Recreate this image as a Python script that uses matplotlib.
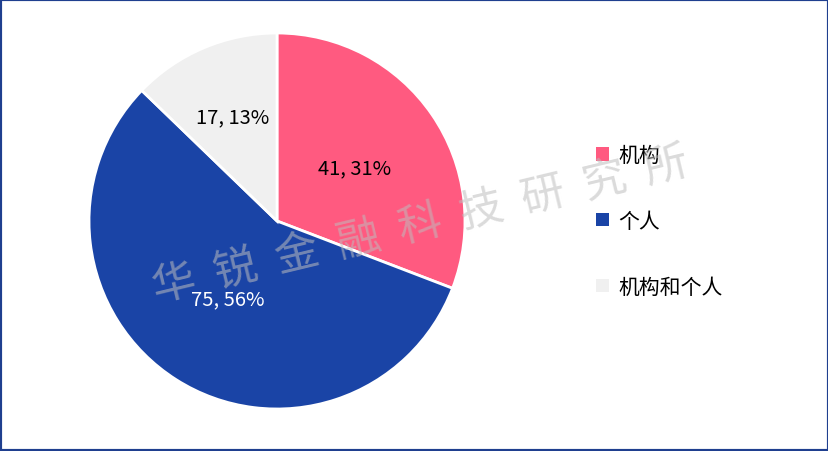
import matplotlib
matplotlib.use("Agg")
import matplotlib.pyplot as plt
from matplotlib.patches import Rectangle
import numpy as np

plt.rcParams['font.family'] = ['Noto Sans CJK SC', 'DejaVu Sans']

categories = ["机构", "个人", "机构和个人"]
counts = [41, 75, 17]
colors = ["#FF5A80", "#1A44A6", "#F0F0F0"]
label_colors = ["black", "white", "black"]
label_dist = [0.50, 0.49, 0.60]

total = sum(counts)
labels = ["%d, %d%%" % (c, round(c * 100 / total)) for c in counts]

W, H = 829, 452
fig = plt.figure(figsize=(W / 100, H / 100), dpi=100)

cx, cy, r = 277, 222, 188
half = 200
ax = fig.add_axes([(cx - half) / W, (H - cy - half) / H, 2 * half / W, 2 * half / H])
wedges, _ = ax.pie(counts, colors=colors, startangle=90, counterclock=False,
                   wedgeprops=dict(edgecolor="white", linewidth=2))
lim = half / r
ax.set_xlim(-lim, lim)
ax.set_ylim(-lim, lim)
ax.set_aspect("equal")
ax.axis("off")

# value labels placed at the middle angle of each wedge
for w, lab, col, d in zip(wedges, labels, label_colors, label_dist):
    ang = np.deg2rad((w.theta1 + w.theta2) / 2)
    ax.text(d * np.cos(ang), d * np.sin(ang), lab, ha="center", va="center",
            fontsize=14.5, color=col, fontweight="medium")

leg = fig.legend(wedges, categories, loc="center left",
                 bbox_to_anchor=(586 / W, 1 - 222 / H), frameon=False,
                 prop=dict(size=15, weight="medium"), handlelength=0.6, handleheight=0.6,
                 handletextpad=0.45, labelspacing=2.1, borderpad=0)
for h in leg.legend_handles:
    h.set_edgecolor("none")

# watermark
fig.text(420 / W, 1 - 226 / H, "华  锐  金  融  科  技  研  究  所",
         ha="center", va="center", rotation=13.5, fontsize=31.5,
         color="#bdbdbd", alpha=0.55, fontweight="light", zorder=10)

# frame
fig.patches.append(Rectangle((0, 0), 1, 1, transform=fig.transFigure, fill=False,
                             edgecolor="#1F3F8F", linewidth=3))

fig.savefig("out.png", dpi=100)
